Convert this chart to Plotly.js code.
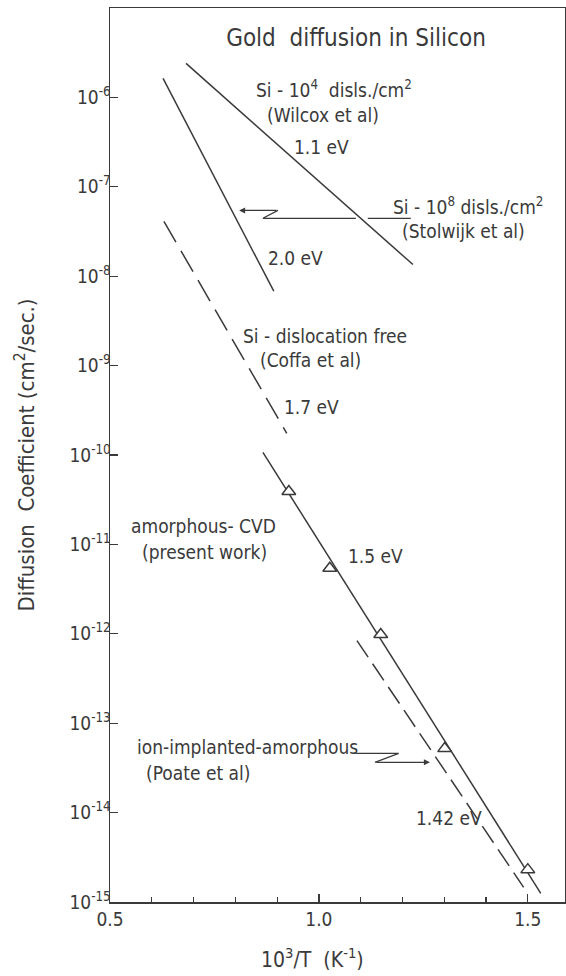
<!DOCTYPE html>
<html>
<head>
<meta charset="utf-8">
<script src="https://cdn.plot.ly/plotly-3.0.1.min.js"></script>
<style>
  html, body { margin: 0; padding: 0; background: #fff; }
  #chart { width: 566px; height: 976px; }
</style>
</head>
<body>
<div id="chart"></div>
<script>
// Arrhenius lines for gold diffusion in silicon: x = 10^3/T (1/K), D in cm^2/s
const wilcoxX = [0.682, 1.225];          // Si - 10^4 disls/cm^2, 1.1 eV
const wilcoxD = [2.4e-6, 1.35e-8];
const stolwijkX = [0.627, 0.892];        // Si - 10^8 disls/cm^2, 2.0 eV
const stolwijkD = [1.63e-6, 6.8e-9];
const coffaX = [0.629, 0.923];           // dislocation-free Si, 1.7 eV
const coffaD = [4.1e-8, 1.75e-10];
const cvdFitX = [0.866, 1.531];          // amorphous CVD fit, 1.5 eV
const cvdFitD = [1.07e-10, 1.25e-15];
const cvdPtsX = [0.928, 1.026, 1.148, 1.301, 1.500];   // measured points
const cvdPtsD = [3.9e-11, 5.4e-12, 9.8e-13, 5.2e-14, 2.3e-15];
const poateX = [1.091, 1.490];           // ion-implanted amorphous, 1.42 eV
const poateD = [8.4e-13, 1.46e-15];

const yTickVals = [1e-6, 1e-7, 1e-8, 1e-9, 1e-10, 1e-11, 1e-12, 1e-13, 1e-14, 1e-15];
const yTickText = ['10<sup>-6</sup>', '10<sup>-7</sup>', '10<sup>-8</sup>', '10<sup>-9</sup>',
  '10<sup>-10</sup>', '10<sup>-11</sup>', '10<sup>-12</sup>', '10<sup>-13</sup>',
  '10<sup>-14</sup>', '10<sup>-15</sup>'];
const xTickVals = [0.5, 1.0, 1.5];
const xTickText = ['0.5', '1.0', '1.5'];

// leader lines from two labels to the curves they describe
const stolwijkLeadX = [1.220, 1.117, null, 1.0885, 0.866, 0.902];
const stolwijkLeadD = [4.44e-8, 4.44e-8, null, 4.44e-8, 4.44e-8, 5.45e-8];
const poateLeadX = [1.0885, 1.191, 1.134];
const poateLeadD = [4.59e-14, 4.59e-14, 3.65e-14];

const INK = '#3a3a3a';
const FONT = '"DejaVu Sans Condensed", "Liberation Sans Narrow", "Liberation Sans", sans-serif';

function line(x, y, dash) {
  return {
    x: x, y: y, type: 'scatter', mode: 'lines',
    line: { color: INK, width: 1.5, dash: dash || 'solid' },
    hoverinfo: 'skip', showlegend: false
  };
}

const traces = [
  line(wilcoxX, wilcoxD),
  line(stolwijkX, stolwijkD),
  line(coffaX, coffaD, '24px,10px'),
  line(cvdFitX, cvdFitD),
  line(poateX, poateD, '20px,8px'),
  Object.assign(line(stolwijkLeadX, stolwijkLeadD), { line: { color: INK, width: 1.2 }, connectgaps: false }),
  Object.assign(line(poateLeadX, poateLeadD), { line: { color: INK, width: 1.2 } }),
  {
    x: cvdPtsX, y: cvdPtsD, type: 'scatter', mode: 'markers',
    marker: { symbol: 'triangle-up', size: 12, color: '#fff', line: { color: INK, width: 1.5 } },
    hoverinfo: 'skip', showlegend: false
  }
];

function label(text, x, logy) {
  return {
    text: text, x: x, y: logy, xref: 'x', yref: 'y',
    xanchor: 'left', yanchor: 'middle', showarrow: false,
    font: { family: FONT, size: 19, color: INK }
  };
}

const annotations = [
  label('Si - 10<sup>4</sup>\u00a0 disls./cm<sup>2</sup>', 0.8445, -5.91),
  label('(Wilcox et al)', 0.871, -6.20),
  label('1.1 eV', 0.935, -6.56),
  label('Si - 10<sup>8</sup> disls./cm<sup>2</sup>', 1.172, -7.21),
  label('(Stolwijk et al)', 1.194, -7.49),
  label('2.0 eV', 0.873, -7.80),
  label('Si - dislocation free', 0.813, -8.67),
  label('(Coffa et al)', 0.854, -8.94),
  label('1.7 eV', 0.911, -9.46),
  label('amorphous- CVD', 0.545, -10.79),
  label('(present work)', 0.572, -11.09),
  label('1.5 eV', 1.065, -11.13),
  label('ion-implanted-amorphous', 0.560, -13.27),
  label('(Poate et al)', 0.581, -13.56),
  label('1.42 eV', 1.227, -14.065),
  // x-axis title, sitting slightly left of the plot centre
  {
    text: '10<sup>3</sup>/T\u00a0 (K<sup>-1</sup>)', x: 0.9856, y: -0.0626,
    xref: 'x', yref: 'paper', xanchor: 'center', yanchor: 'middle', showarrow: false,
    font: { family: FONT, size: 21, color: INK }
  },
  // arrowheads at the ends of the leader lines
  {
    text: '', x: 0.809, y: -7.264, ax: 0.902, ay: -7.264, xref: 'x', yref: 'y',
    axref: 'x', ayref: 'y', showarrow: true, arrowhead: 2, arrowsize: 1, arrowwidth: 1.2,
    arrowcolor: INK
  },
  {
    text: '', x: 1.2656, y: -13.438, ax: 1.134, ay: -13.438, xref: 'x', yref: 'y',
    axref: 'x', ayref: 'y', showarrow: true, arrowhead: 2, arrowsize: 1, arrowwidth: 1.2,
    arrowcolor: INK
  }
];

const layout = {
  width: 566, height: 976,
  margin: { l: 110, r: 1, t: 8, b: 74 },
  paper_bgcolor: '#fff', plot_bgcolor: '#fff',
  font: { family: FONT, color: INK },
  title: {
    text: 'Gold\u00a0 diffusion in Silicon',
    x: 0.629, y: 0.961, xref: 'container', yref: 'container',
    xanchor: 'center', yanchor: 'middle',
    font: { family: FONT, size: 24, color: INK }
  },
  xaxis: {
    range: [0.5, 1.589], showgrid: false, zeroline: false,
    showline: true, mirror: true, linecolor: INK, linewidth: 1.5,
    tickmode: 'array', tickvals: xTickVals, ticktext: xTickText,
    ticks: 'inside', ticklen: 8, tickwidth: 1.2, tickcolor: INK,
    tickfont: { family: FONT, size: 19, color: INK },
    minor: { tickmode: 'linear', tick0: 0.5, dtick: 0.1, ticks: 'inside', ticklen: 5, tickwidth: 1.2, tickcolor: INK, showgrid: false }
  },
  yaxis: {
    type: 'log', range: [-15, -5], showgrid: false, zeroline: false,
    showline: true, mirror: true, linecolor: INK, linewidth: 1.5,
    tickmode: 'array', tickvals: yTickVals, ticktext: yTickText,
    ticks: 'inside', ticklen: 8, tickwidth: 1.2, tickcolor: INK,
    ticklabelstandoff: -6,
    tickfont: { family: FONT, size: 19, color: INK },
    title: {
      text: 'Diffusion\u00a0 Coefficient\u00a0(cm<sup>2</sup>/sec.)',
      font: { family: FONT, size: 22, color: INK }, standoff: 28
    }
  },
  annotations: annotations,
  showlegend: false
};

Plotly.newPlot('chart', traces, layout, { staticPlot: true, displayModeBar: false });
</script>
</body>
</html>
